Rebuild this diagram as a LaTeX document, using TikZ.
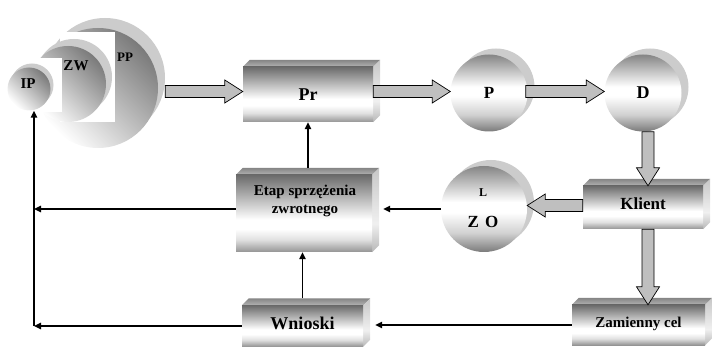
\documentclass[tikz,border=0pt]{standalone}
\usepackage{fontspec}
\setmainfont{Liberation Serif}
\usetikzlibrary{calc,arrows.meta,backgrounds}

% vertical shadings: the path fills the band 25bp..75bp (bottom to top)
\pgfdeclareverticalshading{boxfront}{100bp}{color(0bp)=(black!42); color(25bp)=(black!42); color(33bp)=(black!12); color(40bp)=(white); color(46bp)=(white); color(75bp)=(black!58); color(100bp)=(black!58)}
\pgfdeclareverticalshading{boxside}{100bp}{color(0bp)=(black!28); color(25bp)=(black!28); color(42bp)=(black!6); color(75bp)=(black!22); color(100bp)=(black!22)}
\pgfdeclareverticalshading{boxtop}{100bp}{color(0bp)=(black!30); color(25bp)=(black!30); color(75bp)=(black!48); color(100bp)=(black!48)}
\pgfdeclareverticalshading{ballfront}{100bp}{color(0bp)=(black!52); color(25bp)=(black!52); color(36bp)=(black!18); color(48bp)=(white); color(54bp)=(white); color(75bp)=(black!48); color(100bp)=(black!48)}

\tikzset{
  block/.style={rectangle, shading=boxfront, inner sep=0pt, font=\bfseries},
  ball/.style={circle, shading=ballfront, inner sep=0pt, font=\bfseries},
  dome/.style={circle, inner sep=0pt, top color=black!52, bottom color=white, shading angle=-45},
  backdisc/.style={fill=black!20},
  txt/.style={inner sep=0pt, font=\bfseries},
  conn/.style={line width=1.4pt, -{Triangle[length=7pt,width=6.5pt]}},
  fat/.style={fill=black!25, draw=black, line width=0.7pt, line join=miter},
}

% wide hollow arrow between two points
\newcommand\fatarrow[2]{%
  \path #1 coordinate (fa-s) #2 coordinate (fa-t);
  \path ($(fa-t)!18pt!(fa-s)$) coordinate (fa-h);
  \filldraw[fat] ($(fa-s)!6pt!90:(fa-t)$) -- ($(fa-h)!6pt!90:(fa-t)$)
    -- ($(fa-h)!11.5pt!90:(fa-t)$) -- (fa-t) -- ($(fa-h)!11.5pt!-90:(fa-t)$)
    -- ($(fa-h)!6pt!-90:(fa-t)$) -- ($(fa-s)!6pt!-90:(fa-t)$) -- cycle;}

\begin{document}
\begin{tikzpicture}[x=1pt,y=-1pt]
\useasboundingbox (0,0) rectangle (712,347);

% nested discs IP / ZW / PP
\fill[backdisc] (105,78) circle (60pt);
\node[dome, minimum size=120pt] (PP) at (98,88) {};
\fill[white] (60,32) rectangle (115,122);
\fill[backdisc] (74,77) circle (38pt);
\node[dome, minimum size=76pt] (ZW) at (68,84) {};
\fill[white] (30,58) rectangle (62,112);
\fill[backdisc] (32,85) circle (21.5pt);
\node[dome, minimum size=43pt] (IP) at (29,89) {};
\node[txt, font=\fontsize{13}{13}\selectfont\bfseries] (PPt) at (125,57) {PP};
\node[txt, font=\fontsize{15}{15}\selectfont\bfseries] (ZWt) at (76,66) {ZW};
\node[txt, font=\fontsize{15}{15}\selectfont\bfseries] (IPt) at (28,84) {IP};

% blocks and discs
\node[block, minimum width=130pt, minimum height=55pt, font=\fontsize{18}{18}\selectfont\bfseries] (Pr) at (308,94.5) {Pr};
\node[ball, minimum size=77pt, font=\fontsize{17}{17}\selectfont\bfseries] (P) at (489,93) {P};
\node[ball, minimum size=77pt, font=\fontsize{18}{18}\selectfont\bfseries] (D) at (643,93) {D};
\node[block, minimum width=120pt, minimum height=43pt, font=\fontsize{17}{17}\selectfont\bfseries] (Klient) at (643,207.5) {\raisebox{8pt}{Klient}};
\node[ball, minimum size=86pt] (LZO) at (484,209) {};
\node[txt, font=\fontsize{12}{12}\selectfont\bfseries] (Lt) at (483,193) {L};
\node[txt, font=\fontsize{17}{17}\selectfont\bfseries] (ZOt) at (483,222) {Z\hspace{6pt}O};
\node[block, minimum width=136pt, minimum height=77pt] (Etap) at (304,213.5) {};
\node[txt, align=center, font=\fontsize{15}{18}\selectfont\bfseries] (Etapt) at (305,201) {Etap sprzężenia\\zwrotnego};
\node[block, minimum width=121pt, minimum height=41pt, font=\fontsize{18}{18}\selectfont\bfseries] (Wnioski) at (302.5,326) {\raisebox{6pt}{Wnioski}};
\node[block, minimum width=133pt, minimum height=40pt, font=\fontsize{15}{15}\selectfont\bfseries] (Zam) at (638.5,325) {\raisebox{6pt}{Zamienny cel}};

% top and side faces of the blocks, back discs of the balls
\begin{scope}[on background layer]
  \foreach \b in {Pr,Klient,Etap,Wnioski,Zam} {
    \shade[shading=boxtop] (\b.north west) -- ++(7pt,7pt) -- ([shift={(7pt,7pt)}]\b.north east) -- (\b.north east) -- cycle;
    \shade[shading=boxside] (\b.north east) -- ++(7pt,7pt) -- ([shift={(7pt,7pt)}]\b.south east) -- (\b.south east) -- cycle;
  }
  \foreach \b/\r in {P/38.5,D/38.5,LZO/43}
    \fill[backdisc] ([shift={(7pt,6pt)}]\b.center) circle (\r pt);
\end{scope}

% levels of the horizontal wide arrows
\coordinate (toprow) at ([yshift=3pt]Pr.east);
\coordinate (midrow) at ([yshift=2pt]Klient.west);

% wide arrows of the main flow
\fatarrow{([xshift=7pt]PP.east |- toprow)}{(Pr.west |- toprow)}
\fatarrow{(toprow)}{(P.west |- toprow)}
\fatarrow{([xshift=-2pt]P.east |- toprow)}{(D.west |- toprow)}
\fatarrow{([xshift=5pt]D.south)}{([xshift=5pt]D.south |- Klient.north)}
\fatarrow{(midrow)}{(LZO.east |- midrow)}
\fatarrow{([xshift=5pt]Klient.south)}{([xshift=5pt]Klient.south |- Zam.north)}

% feedback lines
\coordinate (corner) at (34,326);
\draw[conn] ([yshift=7pt]Etap.north -| Pr.south) -- (Pr.south);
\draw[conn] (LZO.west) -- ([xshift=11pt]Etap.east |- LZO.west);
\draw[conn] (Etap.west |- LZO.west) -- (corner |- LZO.west);
\draw[conn] ([yshift=7pt]Wnioski.north) -- (Wnioski.north |- Etap.south);
\draw[conn] (Zam.west) -- ([xshift=12pt]Wnioski.east |- Zam.west);
\draw[conn] (Wnioski.west) -- (corner);
\draw[conn] (corner) -- (corner |- IP.south);
\end{tikzpicture}
\end{document}
